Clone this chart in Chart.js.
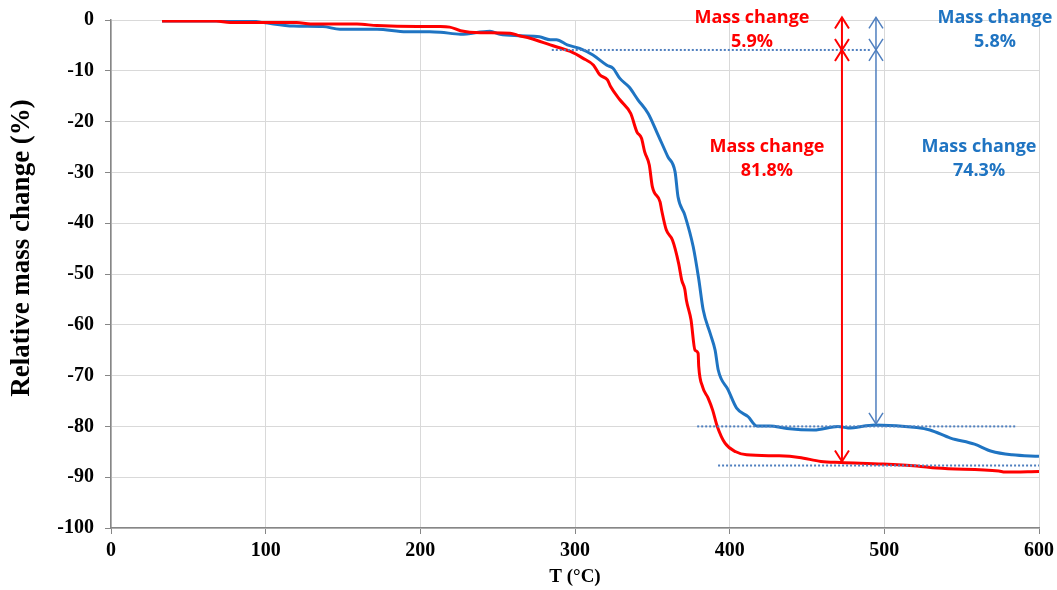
<!DOCTYPE html>
<html>
<head>
<meta charset="utf-8">
<title>TGA mass change</title>
<script src="https://cdn.jsdelivr.net/npm/chart.js@4.4.1/dist/chart.umd.min.js"></script>
<style>
  body { margin: 0; background: #fff; }
  #wrap { width: 1057px; height: 590px; }
</style>
</head>
<body>
<div id="wrap"><canvas id="tgaChart" width="1057" height="590"></canvas></div>
<script>
// Dados (T em °C, variação de massa em %)
const redTemp = [33, 57, 68, 77, 96, 120, 129, 159, 172, 198, 213, 219, 226, 239, 258, 264, 271, 284, 297, 305,
  312, 316, 321, 323, 329, 336, 340, 343, 345, 348, 350, 355, 356, 359, 363, 367, 369, 371, 372, 375,
  377.6, 379.6, 380, 382.5, 386, 389, 392, 397, 404, 411, 432, 445, 459, 472, 499, 521, 534, 574, 578, 600];
const redMass = [-0.2, -0.2, -0.2, -0.5, -0.5, -0.5, -0.8, -0.8, -1.1, -1.3, -1.3, -1.4, -2.1, -2.5, -2.6, -3.1, -3.6, -4.9, -6.2, -7.5,
  -8.9, -10.8, -11.8, -13.1, -15.7, -18.4, -22, -23.3, -25.9, -28.5, -32.8, -35.8, -37.4, -41.3, -43.3, -47.9, -51.2, -53, -55.1, -59,
  -65, -65.6, -68.2, -72.2, -74.4, -76.8, -80, -83.3, -85, -85.6, -85.8, -86.1, -86.9, -87.1, -87.4, -87.8, -88.2, -88.8, -89, -88.9];

const blueTemp = [33, 53, 90, 98.5, 118, 137, 148, 172, 191, 206, 213, 226, 245, 251.5, 264, 277, 284, 288, 295, 303,
  311.6, 320.6, 324.6, 329, 335, 340.7, 347.3, 352.8, 360, 364.7, 366.6, 371, 376.4, 380, 382.9, 387.4, 390.6, 392.6, 399, 404.5,
  412, 417.5, 426, 437, 454.5, 470, 476.5, 494, 521, 529.5, 542.8, 558.3, 569.3, 582.6, 600];
const blueMass = [-0.2, -0.2, -0.2, -0.5, -1.2, -1.3, -1.8, -1.8, -2.3, -2.3, -2.4, -2.8, -2.2, -2.8, -3.1, -3.3, -3.9, -3.9, -4.9, -5.6,
  -6.9, -8.9, -9.5, -11.5, -13.2, -15.7, -18.4, -22, -26.9, -29.9, -34.8, -38.4, -44.6, -51, -57.1, -61.7, -65, -68.9, -72.8, -76.4,
  -78.1, -79.9, -79.9, -80.4, -80.7, -80, -80.3, -79.7, -80.2, -80.7, -82.3, -83.5, -84.9, -85.6, -85.9];

const tempTicks = [0, 100, 200, 300, 400, 500, 600];
const massTicks = [0, -10, -20, -30, -40, -50, -60, -70, -80, -90, -100];

// Anotações: degraus de massa e linhas de referência
const stepLabels = ["5.9%", "81.8%", "5.8%", "74.3%"];
const redArrow = { x: 472.6, top: 0.5, mid: -5.9, bottom: -86.9 };
const blueArrow = { x: 494.6, top: 0.5, mid: -5.9, bottom: -79.5 };
const guideLines = [
  { y: -5.9, from: 285, to: 491 },
  { y: -80, from: 379, to: 585 },
  { y: -87.7, from: 392.5, to: 600 }
];

const RED = "#ff0000";
const BLUE = "#1f74c2";
const ARROW_BLUE = "#4f7fbf";

const labelSpots = [
  { text: stepLabels[0], x: 414.4, y: 0.4, color: RED },
  { text: stepLabels[1], x: 424.1, y: -25.0, color: RED },
  { text: stepLabels[2], x: 571.5, y: 0.4, color: BLUE },
  { text: stepLabels[3], x: 561.2, y: -25.0, color: BLUE }
];

function drawHead(ctx, x, tip, dir) {
  // dir = -1 aponta para cima, 1 aponta para baixo
  ctx.beginPath();
  ctx.moveTo(x - 7, tip - dir * 11);
  ctx.lineTo(x, tip);
  ctx.lineTo(x + 7, tip - dir * 11);
  ctx.stroke();
}

function drawArrow(ctx, xs, ys, a, color, width) {
  const x = xs.getPixelForValue(a.x);
  const yTop = ys.getPixelForValue(a.top);
  const yMid = ys.getPixelForValue(a.mid);
  const yBot = ys.getPixelForValue(a.bottom);
  ctx.save();
  ctx.strokeStyle = color;
  ctx.lineWidth = width;
  ctx.beginPath();
  ctx.moveTo(x, yTop);
  ctx.lineTo(x, yBot);
  ctx.stroke();
  drawHead(ctx, x, yTop, -1);
  drawHead(ctx, x, yMid, 1);
  drawHead(ctx, x, yMid, -1);
  drawHead(ctx, x, yBot, 1);
  ctx.restore();
}

const annotationPlugin = {
  id: "massAnnotations",
  afterDatasetsDraw(chart) {
    const ctx = chart.ctx;
    const xs = chart.scales.x;
    const ys = chart.scales.y;

    // linhas pontilhadas
    ctx.save();
    ctx.strokeStyle = ARROW_BLUE;
    ctx.lineWidth = 2;
    ctx.setLineDash([2, 2]);
    guideLines.forEach(g => {
      const y = ys.getPixelForValue(g.y);
      ctx.beginPath();
      ctx.moveTo(xs.getPixelForValue(g.from), y);
      ctx.lineTo(xs.getPixelForValue(g.to), y);
      ctx.stroke();
    });
    ctx.restore();

    drawArrow(ctx, xs, ys, redArrow, RED, 2);
    drawArrow(ctx, xs, ys, blueArrow, ARROW_BLUE, 1.5);

    // textos
    ctx.save();
    ctx.font = "bold 18px 'Open Sans'";
    ctx.textAlign = "center";
    ctx.textBaseline = "middle";
    labelSpots.forEach(l => {
      const x = xs.getPixelForValue(l.x);
      const y = ys.getPixelForValue(l.y);
      ctx.fillStyle = l.color;
      ctx.fillText("Mass change", x, y);
      ctx.fillText(l.text, x, y + 24);
    });
    ctx.restore();
  },
  afterDraw(chart) {
    // título do eixo Y
    const ctx = chart.ctx;
    ctx.save();
    ctx.translate(22, 248);
    ctx.rotate(-Math.PI / 2);
    ctx.font = "bold 27px 'Liberation Serif'";
    ctx.fillStyle = "#000";
    ctx.textAlign = "center";
    ctx.textBaseline = "middle";
    ctx.fillText("Relative mass change (%)", 0, 0);
    ctx.restore();
  }
};

const tickFont = { family: "'Liberation Serif'", size: 20, weight: "bold", lineHeight: 1 };

new Chart(document.getElementById("tgaChart"), {
  type: "line",
  data: {
    datasets: [
      {
        label: "red",
        data: redTemp.map((t, i) => ({ x: t, y: redMass[i] })),
        borderColor: RED,
        borderWidth: 3,
        pointRadius: 0,
        cubicInterpolationMode: "monotone",
        fill: false
      },
      {
        label: "blue",
        data: blueTemp.map((t, i) => ({ x: t, y: blueMass[i] })),
        borderColor: BLUE,
        borderWidth: 3,
        pointRadius: 0,
        cubicInterpolationMode: "monotone",
        fill: false
      }
    ]
  },
  options: {
    responsive: false,
    animation: false,
    devicePixelRatio: 1,
    layout: { padding: { top: 20, right: 18, bottom: 0, left: 0 } },
    plugins: { legend: { display: false }, tooltip: { enabled: false } },
    scales: {
      x: {
        type: "linear",
        min: 0,
        max: 600,
        afterBuildTicks: s => { s.ticks = tempTicks.map(v => ({ value: v })); },
        afterFit: s => { s.height = 62; s.paddingLeft = 0; s.paddingRight = 0; },
        ticks: { font: tickFont, color: "#000", padding: 7, maxRotation: 0 },
        grid: { color: "#d9d9d9", tickColor: "#868686", tickLength: 6 },
        border: { color: "#868686", width: 1.5 },
        title: {
          display: true,
          text: "T (°C)",
          color: "#000",
          font: { family: "'Liberation Serif'", size: 19, weight: "bold" },
          padding: { top: 2, bottom: 2 }
        }
      },
      y: {
        type: "linear",
        min: -100,
        max: 0,
        afterBuildTicks: s => { s.ticks = massTicks.map(v => ({ value: v })); },
        afterFit: s => { s.width = 111; s.paddingTop = 0; s.paddingBottom = 0; },
        ticks: { font: tickFont, color: "#000", padding: 11 },
        grid: { color: "#d9d9d9", tickColor: "#868686", tickLength: 6 },
        border: { color: "#868686", width: 1.5 }
      }
    }
  },
  plugins: [annotationPlugin]
});
</script>
</body>
</html>
